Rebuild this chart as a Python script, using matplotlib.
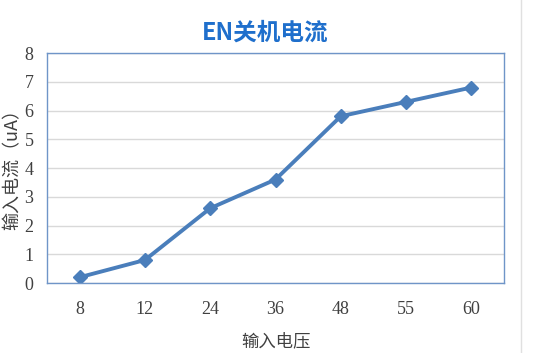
import matplotlib
matplotlib.use("Agg")
import matplotlib.pyplot as plt
from matplotlib.lines import Line2D

# --- data ---
voltages = ["8", "12", "24", "36", "48", "55", "60"]
currents = [0.2, 0.8, 2.6, 3.6, 5.8, 6.3, 6.8]

CJK = ["Noto Sans CJK SC", "DejaVu Sans"]
LINE_BLUE = "#4a7ebb"

fig = plt.figure(figsize=(5.54, 3.53), dpi=100)
ax = fig.add_axes([47 / 554, 1 - 283 / 353, 457 / 554, 230 / 353])

xs = range(len(voltages))
ax.plot(xs, currents, color=LINE_BLUE, linewidth=2.8, marker="D", markersize=7,
        markerfacecolor=LINE_BLUE, markeredgecolor=LINE_BLUE)

ax.set_xlim(-0.5, len(voltages) - 0.5)
ax.set_ylim(0, 8)
ax.set_yticks(range(0, 9))
ax.set_xticks(list(xs))
ax.set_xticklabels(voltages)
ax.grid(axis="y", color="#d9d9d9", linewidth=1)
ax.set_axisbelow(True)
for s in ax.spines.values():
    s.set_color("#6f95c8")
    s.set_linewidth(1)
ax.tick_params(length=0, labelsize=13, colors="#404040")
ax.tick_params(axis="y", pad=13)
ax.tick_params(axis="x", pad=13)
for lbl in ax.get_xticklabels() + ax.get_yticklabels():
    lbl.set_family(["Liberation Serif", "DejaVu Serif"])
for lbl in ax.get_yticklabels():
    lbl.set_horizontalalignment("center")

fig.text(265 / 554, 1 - 33 / 353, "EN关机电流", family=CJK, fontsize=17, fontweight="bold",
         color="#1f6fcc", ha="center", va="center")
fig.text(13 / 554, 1 - 165 / 353, "输入电流（uA）", family=CJK, fontsize=13,
         color="#404040", rotation=90, ha="center", va="center")
fig.text(276 / 554, 1 - 341 / 353, "输入电压", family=CJK, fontsize=12.5,
         color="#404040", ha="center", va="center")

# faint chart frame on the right
fig.add_artist(Line2D([521 / 554, 521 / 554], [0, 1], color="#e0e0e0", linewidth=1,
                      transform=fig.transFigure))

fig.savefig("out.png", dpi=100)
